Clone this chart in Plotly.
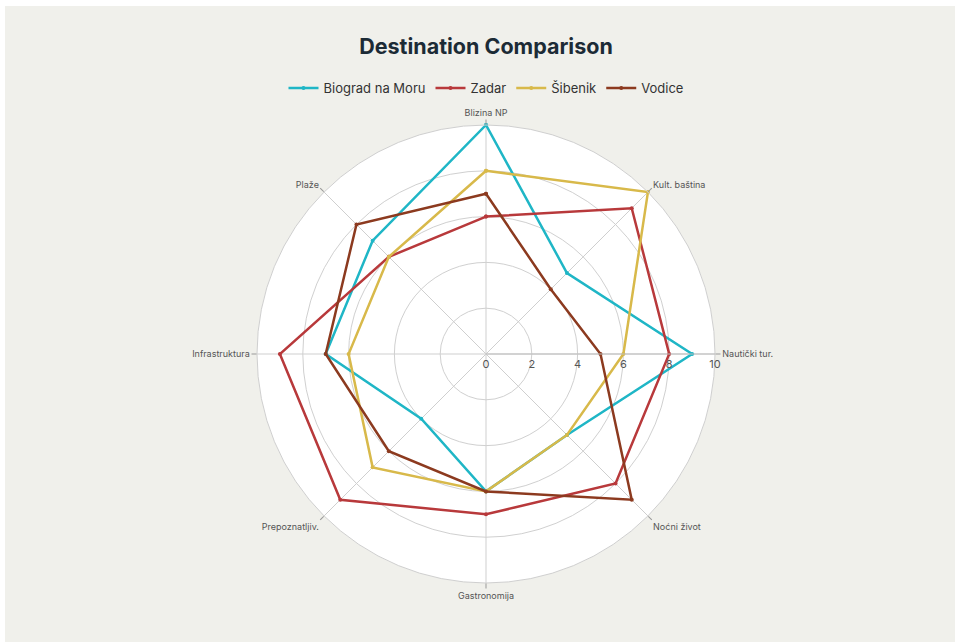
import plotly.graph_objects as go

W, H = 955, 642

categories = ["Blizina NP", "Kult. baština", "Nautički tur.", "Noćni život",
              "Gastronomija", "Prepoznatljiv.", "Infrastruktura", "Plaže"]

biograd = [10, 5, 9, 5, 6, 4, 7, 7]
zadar = [6, 9, 8, 8, 7, 9, 9, 6]
sibenik = [8, 10, 6, 5, 6, 7, 6, 6]
vodice = [7, 4, 5, 9, 6, 6, 7, 8]

series_names = ["Biograd na Moru", "Zadar", "Šibenik", "Vodice"]
series_values = [biograd, zadar, sibenik, vodice]
series_colors = ["#1fb6c6", "#b8393b", "#d8b94a", "#8c3a1f"]

radial_ticks = [0, 2, 4, 6, 8, 10]

fig = go.Figure()
for name, vals, col in zip(series_names, series_values, series_colors):
    fig.add_trace(go.Scatterpolar(
        r=vals + vals[:1],
        theta=categories + categories[:1],
        mode="lines+markers",
        name=name,
        line=dict(color=col, width=2.5),
        marker=dict(color=col, size=4),
    ))

# polar area: centre (486, 354), outer radius 229 px
cx, cy, rad = 486, 354, 229
dom_x = [(cx - rad) / W, (cx + rad) / W]
dom_y = [(H - cy - rad) / H, (H - cy + rad) / H]

fig.update_layout(
    width=W, height=H,
    margin=dict(l=0, r=0, t=0, b=0),
    paper_bgcolor="white",
    font=dict(family="Inter, Arial, sans-serif", color="#555555"),
    title=dict(
        text="<b>Destination Comparison</b>",
        x=cx / W, xanchor="center",
        y=1 - 46 / H, yanchor="middle", yref="container",
        font=dict(size=21.5, color="#1c2b36", family="Inter, Arial, sans-serif"),
    ),
    showlegend=True,
    legend=dict(
        orientation="h",
        x=cx / W, xanchor="center",
        y=1 - 88 / H, yanchor="middle",
        font=dict(size=13, color="#333333"),
        bgcolor="rgba(0,0,0,0)",
        itemwidth=30,
    ),
    polar=dict(
        domain=dict(x=dom_x, y=dom_y),
        bgcolor="white",
        angularaxis=dict(
            direction="clockwise",
            rotation=90,
            tickfont=dict(size=9, color="#555555"),
            ticks="outside",
            ticklen=5,
            tickcolor="#999999",
            gridcolor="#cfcfcf",
            linecolor="#cfcfcf",
            showline=True,
        ),
        radialaxis=dict(
            range=[0, 10],
            tickvals=radial_ticks,
            angle=0,
            tickangle=0,
            tickfont=dict(size=11, color="#555555"),
            gridcolor="#d0d0d0",
            linecolor="#bdbdbd",
            showline=True,
            ticks="",
        ),
    ),
    shapes=[dict(
        type="rect", xref="paper", yref="paper", layer="below",
        x0=5 / W, x1=1.0, y0=0.0, y1=1 - 6 / H,
        fillcolor="#f0f0eb", line=dict(width=0),
    )],
)

fig.write_html("out.html")
